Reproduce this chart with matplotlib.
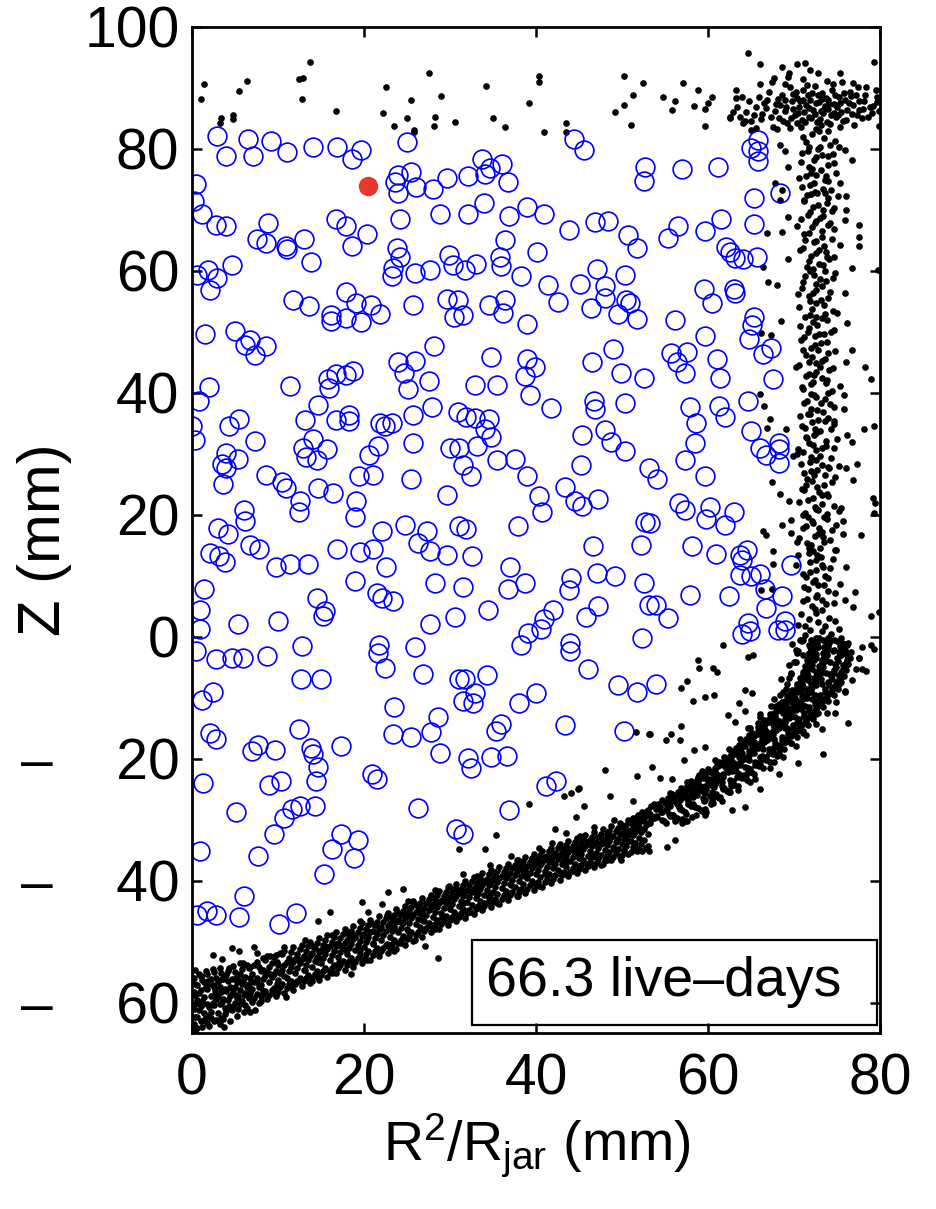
import numpy as np
import matplotlib
matplotlib.use("Agg")
import matplotlib.pyplot as plt
from matplotlib.patches import Rectangle
from matplotlib.ticker import FuncFormatter

plt.rcParams['font.family'] = ['Liberation Sans', 'DejaVu Sans']
plt.rcParams['mathtext.default'] = 'regular'

# candidate events (blue open circles), (R^2/Rjar, Z) in mm
events = [
    (2.9, 82.1), (3.9, 78.8), (6.5, 81.7), (7.1, 78.8), (9.2, 81.3), (11.1, 79.5), (14.1, 80.3),
    (16.9, 80.4), (19.7, 79.8), (18.6, 78.4), (25.0, 81.1), (0.5, 74.3), (0.2, 71.5), (1.2, 69.3),
    (2.8, 67.5), (3.9, 67.4), (8.8, 67.9), (7.5, 65.3), (8.6, 64.5), (10.9, 64.0), (11.0, 63.6),
    (13.0, 65.3), (13.8, 61.4), (4.7, 61.0), (1.9, 60.2), (0.6, 59.3), (2.9, 58.8), (16.7, 68.5),
    (17.9, 67.3), (20.4, 66.0), (18.6, 64.0), (23.6, 74.5), (24.0, 75.7), (25.5, 76.2), (24.0, 72.7),
    (26.0, 73.8), (24.2, 68.5), (23.8, 63.7), (24.2, 62.3), (23.4, 60.4), (25.9, 59.6),
    (44.4, 81.7), (45.6, 79.9), (52.7, 77.1), (52.6, 74.8), (33.7, 78.3), (34.7, 76.8), (36.1, 77.5),
    (34.1, 75.9), (36.7, 74.6), (32.1, 75.5), (29.7, 75.3), (28.0, 73.5), (28.8, 69.3), (32.1, 69.3),
    (34.0, 71.1), (36.9, 69.0), (39.0, 70.5), (40.9, 69.4), (43.8, 66.7), (46.9, 68.0), (48.4, 68.2),
    (50.7, 65.9), (51.8, 63.8), (36.4, 65.0), (40.1, 63.1), (29.9, 62.6), (30.3, 61.0), (31.7, 60.1),
    (33.0, 61.1), (35.8, 62.2), (35.9, 60.8), (27.7, 60.1), (38.3, 59.1), (47.1, 60.3), (50.3, 59.3),
    (57.0, 76.7), (61.2, 77.1), (65.8, 81.5), (65.0, 80.2), (65.8, 79.6), (65.8, 78.1), (68.4, 72.7),
    (65.3, 71.9), (56.5, 67.3), (55.3, 65.4), (59.6, 66.6), (61.5, 68.5), (65.3, 67.7), (62.1, 63.9),
    (62.6, 63.1), (63.1, 62.1), (64.1, 61.9), (65.7, 62.2),
    (2.1, 56.9), (11.7, 55.2), (13.6, 54.2), (17.9, 56.6), (19.1, 54.7), (20.8, 54.4), (21.9, 53.0),
    (16.2, 52.7), (16.2, 51.7), (17.9, 52.2), (19.7, 51.6), (25.7, 54.4), (23.2, 59.1), (1.5, 49.7),
    (5.0, 50.1), (6.2, 47.8), (6.7, 48.7), (7.3, 46.2), (8.6, 47.7), (2.0, 41.0), (0.85, 38.7),
    (0.0, 34.5), (0.3, 32.3), (11.4, 41.2), (14.6, 38.0), (13.1, 35.5), (16.8, 35.6), (18.3, 36.4),
    (18.3, 35.4), (15.8, 42.2), (15.9, 40.8), (16.8, 43.1), (17.9, 43.0), (18.7, 43.5), (24.0, 45.1),
    (25.9, 45.2), (24.7, 43.2), (25.1, 40.7), (25.7, 36.4), (21.9, 35.0), (22.4, 34.6), (23.2, 35.0),
    (4.3, 34.6), (5.5, 35.7), (7.3, 32.1), (4.0, 30.1), (3.5, 28.3), (4.0, 27.6), (5.4, 29.1),
    (3.6, 25.0), (12.9, 30.9), (14.1, 32.5), (15.7, 30.8), (13.3, 29.5), (14.5, 28.9), (20.6, 29.8),
    (21.6, 31.2), (8.6, 26.6), (10.5, 25.4), (10.9, 24.4), (14.6, 24.4), (16.4, 23.6), (19.4, 26.3),
    (21.1, 26.6), (25.5, 25.9), (25.7, 31.7), (12.5, 22.3), (12.4, 20.4), (6.1, 20.8), (6.2, 18.9),
    (3.0, 17.8), (4.2, 16.8), (19.1, 22.3), (18.9, 19.6), (22.1, 17.3), (24.8, 18.4),
    (41.4, 57.7), (42.6, 54.9), (45.1, 57.8), (48.0, 57.5), (48.0, 55.6), (46.4, 53.9), (49.5, 52.9),
    (50.5, 55.2), (50.9, 54.7), (51.8, 52.1), (29.7, 55.4), (30.9, 55.2), (30.5, 52.4), (31.5, 52.7),
    (34.5, 54.4), (36.4, 55.2), (36.2, 53.1), (39.0, 51.3), (28.1, 47.7), (27.6, 41.9), (27.9, 37.6),
    (34.8, 45.9), (32.9, 41.3), (35.5, 41.3), (38.9, 45.6), (39.9, 44.3), (38.7, 42.8), (39.3, 39.7),
    (41.7, 37.5), (30.9, 36.8), (31.9, 36.1), (32.9, 35.8), (34.5, 35.7), (34.1, 34.1), (34.8, 32.7),
    (33.1, 31.2), (30.0, 30.9), (31.0, 31.0), (31.5, 28.1), (32.4, 26.3), (35.5, 29.0), (37.6, 29.2),
    (39.0, 26.4), (29.6, 23.3), (40.3, 23.1), (40.7, 20.4), (43.4, 24.6), (44.5, 22.2), (45.3, 21.4),
    (47.2, 22.6), (46.5, 45.0), (48.9, 47.2), (49.9, 43.2), (52.5, 42.4), (46.7, 38.7), (46.9, 37.4),
    (50.4, 38.4), (45.4, 33.1), (48.0, 33.9), (48.7, 31.9), (50.3, 30.4), (45.2, 28.1), (53.1, 27.6),
    (52.7, 18.8), (27.3, 17.3), (31.0, 18.1), (31.9, 17.7), (37.9, 18.1),
    (59.5, 57.0), (63.0, 57.0), (63.1, 56.3), (60.5, 54.7), (56.2, 52.0), (65.3, 52.5), (65.1, 51.1),
    (64.8, 48.8), (59.6, 49.3), (66.4, 46.3), (67.3, 47.4), (67.6, 42.3), (55.7, 46.6), (56.4, 45.1),
    (57.3, 43.2), (57.5, 46.7), (61.0, 45.6), (61.4, 42.5), (57.9, 37.7), (58.6, 35.0), (61.3, 37.9),
    (62.0, 36.1), (64.6, 38.6), (65.0, 33.7), (66.0, 31.0), (66.8, 29.8), (68.2, 31.7), (68.2, 30.8),
    (68.2, 28.5), (58.5, 31.7), (57.3, 28.9), (59.7, 26.4), (54.1, 25.9), (56.6, 21.9), (57.3, 20.8),
    (60.2, 21.2), (59.8, 19.3), (62.0, 18.3), (63.0, 20.4), (53.3, 18.6),
    (2.1, 13.8), (3.1, 13.2), (3.8, 12.2), (6.7, 15.1), (7.8, 14.4), (9.8, 11.4), (11.4, 11.9),
    (13.5, 12.0), (16.9, 14.4), (19.5, 13.9), (21.1, 14.4), (22.6, 11.4), (18.9, 9.1), (21.5, 7.2),
    (22.1, 6.3), (23.4, 5.9), (1.4, 7.8), (0.9, 4.3), (0.9, 1.3), (0.5, -2.4), (2.8, -3.6),
    (4.7, -3.5), (5.9, -3.5), (8.7, -3.1), (5.4, 2.1), (10.0, 2.6), (14.5, 6.3), (15.5, 4.2),
    (15.2, 3.4), (12.8, -1.5), (12.7, -6.9), (15.0, -6.9), (21.7, -1.3), (21.6, -2.7), (22.4, -5.2),
    (25.9, -1.7), (2.5, -9.1), (1.2, -10.4), (23.5, -11.6), (2.1, -15.8), (2.8, -16.8), (7.0, -18.8),
    (7.7, -17.7), (9.7, -18.6), (12.4, -15.1), (13.8, -18.2), (14.1, -19.3), (14.6, -21.4),
    (14.4, -23.6), (17.3, -17.9), (23.4, -15.9), (25.5, -16.5), (20.9, -22.5), (21.5, -23.4),
    (1.3, -24.0), (9.0, -24.3), (10.4, -23.6), (26.3, 15.4),
    (27.7, 14.0), (29.6, 13.4), (32.5, 13.2), (28.3, 8.8), (31.5, 8.1), (37.0, 11.4), (36.7, 7.8),
    (38.7, 8.8), (44.1, 9.6), (43.8, 7.6), (46.6, 14.8), (47.1, 10.4), (49.2, 9.9), (52.2, 15.1),
    (52.5, 8.8), (53.1, 5.2), (27.7, 2.1), (30.6, 3.2), (34.4, 4.3), (38.3, -1.4), (39.1, 0.6),
    (40.6, 1.3), (40.9, 2.9), (42.0, 4.3), (45.8, 3.2), (47.2, 5.1), (44.0, -1.0), (44.0, -2.4),
    (46.0, -5.3), (26.9, -6.2), (31.0, -6.9), (31.7, -7.0), (32.9, -9.3), (31.5, -10.6), (32.7, -10.8),
    (34.3, -6.3), (38.0, -10.8), (40.0, -9.3), (49.5, -8.0), (51.8, -9.1), (52.3, -0.2), (28.6, -13.1),
    (27.8, -15.6), (28.8, -19.1), (32.1, -19.9), (32.4, -21.6), (34.8, -19.7), (36.6, -19.5),
    (35.9, -14.3), (35.4, -15.5), (43.4, -14.5), (50.2, -15.4), (41.2, -24.5), (42.3, -23.6),
    (58.1, 14.8), (60.9, 13.6), (63.7, 13.4), (64.5, 14.3), (63.9, 12.6), (63.7, 10.2), (65.0, 10.0),
    (66.0, 10.3), (66.6, 7.8), (68.6, 6.6), (69.7, 11.8), (66.7, 4.7), (64.7, 2.2), (64.9, 1.0),
    (64.0, 0.4), (68.1, 1.1), (68.9, 2.5), (68.9, 1.1), (57.9, 6.9), (62.4, 6.6), (54.0, 5.2),
    (55.4, 3.1), (54.0, -7.7),
    (5.1, -28.8), (10.7, -29.7), (11.6, -28.2), (12.6, -27.7), (14.3, -27.8), (9.5, -32.3),
    (0.9, -35.1), (7.7, -36.0), (17.3, -32.3), (19.3, -33.4), (16.3, -34.8), (18.8, -36.3),
    (15.4, -38.9), (6.0, -42.6), (0.6, -45.7), (1.7, -45.0), (2.8, -45.6), (5.5, -45.9),
    (10.1, -47.2), (12.1, -45.4), (26.3, -28.1), (36.9, -28.4), (30.7, -31.6), (31.5, -32.3),
]

# the one highlighted event (red)
highlight = (20.5, 73.9)

# wall / surface events (black dots)
top_dots = [
    (1.4, 90.6), (1.0, 88.2), (6.4, 91.1), (5.5, 89.5), (3.4, 85.0), (3.3, 84.2), (4.8, 85.6),
    (4.8, 84.9), (13.7, 94.3), (12.4, 91.4), (12.9, 91.6), (12.8, 88.2), (16.7, 86.2), (22.6, 90.1),
    (25.5, 88.0), (22.2, 85.9), (25.0, 85.1), (23.5, 83.8), (25.8, 83.1), (25.8, 82.7), (27.6, 92.4),
    (29.0, 88.7), (28.2, 85.2), (28.1, 83.8), (30.6, 84.5), (34.2, 90.3), (35.0, 85.0), (36.4, 83.6),
    (39.2, 87.6), (40.3, 92.0), (40.3, 90.9), (40.9, 82.8), (43.5, 84.3), (43.5, 82.8), (50.2, 91.9),
    (52.4, 90.8), (51.3, 88.9), (50.2, 87.2), (49.2, 86.0), (51.0, 83.9), (64.6, 95.8), (66.0, 94.0),
    (68.6, 93.4), (70.3, 94.0), (71.3, 94.1), (69.4, 92.5), (71.9, 93.0), (72.8, 92.4), (75.3, 92.5),
    (79.3, 94.3), (67.7, 91.6), (66.0, 90.7), (57.1, 90.8), (58.8, 89.7), (54.8, 88.5), (56.2, 87.8),
    (55.8, 86.4), (58.4, 87.0), (59.6, 86.5), (60.0, 87.6), (60.5, 88.5), (59.6, 83.7), (63.2, 89.6),
    (63.2, 88.4), (62.6, 85.0), (64.3, 84.6), (65.0, 83.1),
]

top_cluster = [
    (62.5, 85.2), (63.4, 86.8), (64.1, 84.3), (64.8, 87.9), (65.3, 85.6), (65.9, 88.6), (66.2, 84.9),
    (66.8, 86.7), (67.1, 89.3), (67.5, 83.6), (67.9, 87.4), (68.2, 85.1), (68.6, 88.9), (68.9, 86.3),
    (69.2, 84.2), (69.5, 90.1), (69.8, 87.8), (70.1, 85.6), (70.3, 88.4), (70.6, 86.9), (70.9, 84.7),
    (71.1, 89.6), (71.4, 87.2), (71.7, 85.3), (71.9, 88.1), (72.2, 86.4), (72.4, 90.3), (72.7, 84.5),
    (72.9, 87.7), (73.2, 89.1), (73.4, 85.9), (73.7, 88.3), (73.9, 86.6), (74.2, 84.1), (74.4, 89.7),
    (74.7, 87.4), (74.9, 85.2), (75.2, 88.6), (75.5, 86.1), (75.8, 89.2), (76.1, 84.8), (76.4, 87.5),
    (76.8, 85.7), (77.2, 88.9), (77.6, 86.4), (78.1, 87.8), (78.6, 85.3), (79.2, 87.1), (79.7, 88.6),
    (69.9, 89.0), (71.2, 86.0), (72.8, 88.9), (73.6, 87.0), (70.7, 87.8), (74.0, 88.0), (75.0, 86.9),
    (68.4, 87.2), (72.0, 85.0), (73.1, 86.2), (71.6, 88.8), (70.4, 84.3), (74.6, 85.9), (69.0, 88.1),
    (76.6, 88.7), (77.9, 85.0), (66.5, 87.6), (63.9, 88.5), (65.6, 83.4), (68.0, 83.2), (75.4, 83.6),
    (77.0, 83.9), (79.9, 86.2), (79.5, 89.6), (78.4, 90.2), (76.9, 90.8), (75.6, 91.0), (73.8, 91.2),
    (71.0, 91.4), (69.3, 91.8), (67.4, 90.9),
    (62.9, 86.1), (63.7, 85.3), (64.4, 86.0), (65.0, 84.6), (65.6, 86.9), (66.3, 85.8), (66.9, 88.0),
    (67.3, 85.2), (67.8, 86.2), (68.1, 88.2), (68.7, 84.6), (69.1, 86.8), (69.6, 85.1), (69.9, 86.5),
    (70.2, 89.3), (70.5, 85.9), (71.0, 88.1), (71.3, 84.5), (71.8, 86.7), (72.1, 89.2), (72.4, 85.7),
    (72.6, 87.6), (73.0, 84.9), (73.3, 88.2), (73.5, 86.5), (73.8, 84.5), (74.1, 87.3), (74.3, 85.5),
    (74.8, 88.8), (75.1, 85.6), (75.3, 87.5), (75.7, 84.6), (75.9, 88.0), (76.2, 86.4), (76.5, 89.4),
    (76.9, 87.2), (77.3, 85.6), (77.6, 87.9), (78.0, 86.5), (78.3, 88.8), (78.8, 86.9), (79.1, 85.9),
    (79.6, 87.7), (77.4, 90.2), (74.5, 90.6), (71.5, 90.5), (68.9, 90.6), (70.8, 83.6), (72.5, 83.3),
    (74.0, 82.9), (73.1, 83.9), (69.5, 83.4),
]

side_column = [
    (72.1, 82.4), (73.5, 81.8), (71.4, 81.1), (74.2, 80.6), (72.8, 80.0), (70.9, 79.4), (73.9, 78.9),
    (72.3, 78.2), (74.6, 77.7), (71.7, 77.1), (73.1, 76.5), (72.5, 75.8), (70.6, 75.2), (74.0, 74.7),
    (71.9, 74.1), (73.4, 73.5), (72.7, 72.8), (75.1, 72.3), (71.2, 71.7), (73.8, 71.1), (72.2, 70.4),
    (74.4, 69.9), (71.6, 69.2), (73.0, 68.6), (72.4, 67.9), (70.3, 67.3), (74.7, 66.8), (71.8, 66.2),
    (73.3, 65.5), (72.6, 64.9), (75.4, 64.3), (71.1, 63.8), (73.7, 63.1), (72.0, 62.5), (74.1, 61.9),
    (72.9, 61.2), (71.5, 60.6), (73.6, 60.0), (72.3, 59.4), (74.5, 58.8), (71.0, 58.1), (73.2, 57.5),
    (72.6, 56.9), (70.5, 56.2), (74.0, 55.6), (71.9, 55.0), (73.5, 54.4), (72.1, 53.7), (75.0, 53.1),
    (71.3, 52.5), (73.8, 51.9), (72.7, 51.2), (71.7, 50.6), (74.3, 50.0), (72.4, 49.3), (70.8, 48.7),
    (73.1, 48.1), (72.0, 47.4), (74.8, 46.8), (71.4, 46.2), (73.6, 45.6), (72.5, 44.9), (70.2, 44.3),
    (74.1, 43.7), (71.8, 43.1), (73.3, 42.4), (72.2, 41.8), (75.3, 41.2), (71.1, 40.6), (73.9, 40.0),
    (72.6, 39.3), (71.5, 38.7), (74.2, 38.1), (72.0, 37.4), (73.4, 36.8), (70.7, 36.2), (72.8, 35.6),
    (74.6, 34.9), (71.3, 34.3), (73.0, 33.7), (72.3, 33.1), (75.0, 32.4), (71.8, 31.8), (73.7, 31.2),
    (72.5, 30.6), (70.4, 29.9), (74.3, 29.3), (71.9, 28.7), (73.2, 28.1), (72.7, 27.4), (71.2, 26.8),
    (74.8, 26.2), (72.1, 25.6), (73.5, 24.9), (70.9, 24.3), (72.9, 23.7), (74.0, 23.1), (71.6, 22.4),
    (73.3, 21.8), (72.4, 21.2), (75.2, 20.6), (71.0, 20.0), (73.8, 19.3), (72.2, 18.7), (71.4, 18.1),
    (74.4, 17.5), (72.8, 16.8), (70.6, 16.2), (73.5, 15.6), (72.0, 15.0), (74.9, 14.3), (71.7, 13.7),
    (73.1, 13.1), (72.6, 12.5), (70.2, 11.8), (74.2, 11.2), (71.9, 10.6), (73.6, 10.0), (72.4, 9.3),
    (75.4, 8.7), (71.2, 8.1), (73.9, 7.5), (72.7, 6.8), (71.5, 6.2), (74.6, 5.6), (72.1, 5.0),
    (73.3, 4.3), (70.8, 3.7), (74.1, 3.1),
    (72.9, 82.9), (71.8, 80.3), (73.2, 79.0), (72.0, 76.0), (73.7, 75.5), (72.4, 73.0), (71.5, 72.4),
    (73.4, 70.0), (72.6, 68.2), (73.9, 67.5), (71.3, 65.0), (72.9, 63.5), (73.8, 62.2), (71.9, 59.9),
    (73.0, 58.6), (72.2, 56.3), (73.6, 53.0), (72.5, 52.4), (71.6, 49.9), (73.5, 49.6), (72.8, 47.0),
    (71.7, 45.0), (73.0, 44.2), (72.3, 42.9), (73.7, 41.6), (72.0, 39.8), (73.1, 38.4), (71.9, 36.5),
    (73.6, 35.4), (72.4, 34.1), (71.5, 32.6), (73.3, 30.9), (72.0, 29.5), (73.9, 27.9), (72.3, 26.5),
    (71.4, 24.8), (73.2, 23.3), (72.6, 20.9), (73.8, 20.1), (71.6, 19.6), (72.9, 17.9), (73.4, 16.3),
    (71.8, 14.6), (72.7, 13.4), (73.3, 11.7), (71.4, 9.8), (72.8, 8.4), (73.2, 6.1), (72.4, 4.6),
    (71.7, 2.9), (72.8, 2.4), (73.6, 1.8), (71.9, 1.1), (74.3, 0.4), (72.5, -0.2), (70.9, -0.7),
    (71.0, 82.0), (74.8, 81.3), (73.0, 80.4), (71.6, 79.7), (74.5, 79.2), (72.6, 78.6), (70.8, 77.9),
    (73.9, 77.3), (72.1, 76.7), (74.9, 76.0), (71.4, 75.5), (73.6, 74.9), (72.3, 74.4), (70.9, 73.8),
    (74.3, 73.2), (72.0, 72.6), (73.9, 72.0), (71.2, 71.4), (72.8, 70.8), (74.6, 70.3), (71.9, 69.6),
    (73.4, 69.0), (70.8, 68.5), (74.2, 67.9), (72.1, 67.2), (73.3, 66.6), (71.2, 66.0), (74.4, 65.3),
    (72.3, 64.7), (73.5, 64.0), (70.7, 63.4), (72.5, 62.9), (74.6, 62.3), (71.7, 61.6), (73.4, 61.0),
    (72.2, 60.3), (74.8, 59.7), (71.3, 59.1), (73.7, 58.4), (72.5, 57.8), (70.9, 57.2), (74.2, 56.5),
    (71.8, 55.9), (73.1, 55.3), (72.6, 54.7), (70.6, 54.1), (74.5, 53.4), (71.9, 52.8), (73.3, 52.2),
    (72.2, 51.6), (70.7, 51.0), (74.7, 50.3), (72.9, 49.7), (71.2, 49.1), (73.8, 48.4), (72.4, 47.8),
    (71.0, 47.1), (74.0, 46.5), (72.1, 45.9), (73.3, 45.3), (70.6, 44.6), (74.5, 44.0), (72.6, 43.4),
    (71.4, 42.7), (73.8, 42.1), (72.0, 41.4), (70.9, 40.9), (74.4, 40.3), (72.3, 39.6), (73.6, 39.0),
    (71.2, 38.4), (74.6, 37.7), (72.7, 37.1), (71.6, 36.5), (73.9, 35.9), (72.1, 35.2), (70.9, 34.6),
    (74.3, 34.0), (72.6, 33.4), (71.4, 32.8), (73.7, 32.1), (72.2, 31.5), (74.7, 30.9), (71.1, 30.3),
    (73.0, 29.6), (72.5, 28.9), (70.8, 28.4), (74.1, 27.7), (72.0, 27.1), (73.6, 26.5), (71.5, 25.9),
    (74.4, 25.3), (72.7, 24.6), (71.2, 24.0), (73.8, 23.4), (72.2, 22.8), (70.6, 22.1), (74.6, 21.5),
    (72.8, 20.7), (71.3, 20.3), (73.5, 19.7), (72.1, 19.0), (74.9, 18.4), (71.0, 17.8), (73.2, 17.2),
    (72.4, 16.5), (74.2, 15.9), (71.5, 15.3), (73.0, 14.6), (72.2, 14.0), (70.5, 13.4), (74.5, 12.8),
    (71.9, 12.2), (73.4, 11.5), (72.5, 10.9), (71.0, 10.3), (74.0, 9.7), (72.2, 9.0), (73.5, 8.4),
    (71.6, 7.8), (74.8, 7.2), (72.5, 6.5), (71.1, 5.9), (73.7, 5.3), (72.6, 3.9), (74.8, 2.5),
    (71.3, 1.8), (73.2, 0.9), (75.2, 1.3), (70.5, 2.0), (72.0, -0.5),
]

side_scatter = [
    (68.4, 80.7), (69.0, 79.6), (69.3, 77.1), (67.8, 74.4), (68.6, 73.3), (68.4, 71.6), (69.3, 68.8),
    (68.6, 66.3), (66.9, 66.2), (69.3, 61.9), (66.4, 60.6), (75.2, 80.4), (75.9, 79.9), (76.7, 78.2),
    (75.3, 74.4), (76.0, 72.3), (76.1, 70.0), (75.9, 68.4), (77.5, 67.5), (77.5, 65.6), (77.5, 64.1),
    (76.7, 60.4), (79.8, 60.2), (79.9, 83.7), (73.6, 72.7), (67.0, 58.2), (68.0, 57.7), (75.9, 56.3),
    (68.5, 51.8), (66.2, 49.8), (67.3, 49.5), (76.2, 51.4), (76.7, 47.0), (76.0, 45.0), (78.2, 44.3),
    (79.0, 42.3), (66.0, 39.8), (66.5, 37.9), (67.2, 35.7), (66.9, 34.2), (69.1, 34.1), (75.8, 39.7),
    (75.8, 37.4), (74.7, 35.3), (76.2, 33.1), (76.7, 32.0), (78.1, 34.0), (79.3, 34.5), (75.2, 28.0),
    (76.0, 27.6), (77.3, 28.4), (76.9, 25.7), (67.4, 25.4), (68.4, 23.4), (69.4, 22.2), (69.7, 19.2),
    (68.6, 18.3), (69.9, 29.6), (70.5, 30.8), (79.2, 22.7), (79.4, 21.9), (79.3, 20.3), (75.5, 21.1),
    (75.7, 18.9), (66.4, 17.3), (66.8, 16.7), (69.7, 17.0), (75.7, 16.9), (77.8, 16.6), (67.6, 14.0),
    (70.3, 15.5), (74.8, 14.3), (67.6, 11.9), (76.1, 11.5), (66.2, 7.7), (67.4, 7.8), (77.1, 7.4),
    (75.9, 6.1), (76.9, 4.8), (79.0, 3.4), (79.9, 4.1),
]

# lower wall band, listed per R^2/Rjar column: z values
floor_band = {
    0.2: [-63.5, -61.0, -58.2, -56.0], 0.6: [-62.3, -59.6, -57.1, -64.2],
    1.0: [-63.0, -60.5, -58.0, -55.6], 1.4: [-61.7, -59.1, -56.6, -62.8],
    1.8: [-63.4, -60.2, -57.8, -55.3], 2.2: [-61.5, -58.9, -56.2, -62.6],
    2.6: [-60.4, -57.5, -63.1, -55.0], 3.0: [-61.8, -59.0, -56.7], 3.4: [-62.5, -58.3, -55.2],
    3.8: [-60.9, -57.8, -61.9], 4.2: [-59.6, -56.5, -54.8], 4.6: [-61.2, -58.6, -56.1],
    5.0: [-60.1, -57.4, -55.0], 5.4: [-58.9, -56.3, -61.0], 5.8: [-59.7, -57.0, -54.5],
    6.2: [-58.4, -55.8, -60.4], 6.6: [-59.2, -56.9, -54.3], 7.0: [-57.8, -55.4, -59.9],
    7.5: [-58.6, -55.9, -53.4], 8.0: [-57.2, -54.8, -59.0], 8.5: [-58.1, -55.6, -53.0],
    9.0: [-56.7, -54.2, -58.8], 9.5: [-57.6, -55.3, -52.6], 10.0: [-56.3, -53.9, -58.2],
    10.5: [-57.0, -54.6, -52.1], 11.0: [-55.9, -53.4, -57.6], 11.5: [-56.5, -54.1, -51.7],
    12.0: [-55.2, -52.9, -57.0], 12.5: [-56.0, -53.5, -51.3], 13.0: [-54.7, -52.4, -56.5],
    13.5: [-55.5, -53.0, -50.8], 14.0: [-54.1, -51.9, -56.0], 14.5: [-54.9, -52.6, -50.3],
    15.0: [-53.6, -51.4, -55.5], 15.5: [-54.3, -52.0, -49.8], 16.0: [-53.0, -50.8, -55.0],
    16.5: [-53.8, -51.5, -49.3], 17.0: [-52.5, -50.2, -54.4], 17.5: [-53.2, -51.0, -48.8],
    18.0: [-52.0, -49.7, -53.9], 18.5: [-52.7, -50.4, -48.3], 19.0: [-51.4, -49.2, -53.3],
    19.5: [-52.1, -49.9, -47.8], 20.0: [-50.9, -48.7, -52.8], 20.5: [-51.6, -49.3, -47.3],
    21.0: [-50.4, -48.2, -52.2], 21.5: [-51.0, -48.8, -46.8], 22.0: [-49.8, -47.6, -51.6],
    22.5: [-50.5, -48.2, -46.2], 23.0: [-49.2, -47.0, -51.0], 23.5: [-49.8, -47.6, -45.6],
    24.0: [-48.5, -46.4, -50.3], 24.5: [-49.1, -46.9, -45.0], 25.0: [-47.9, -45.7, -49.6],
    25.5: [-48.4, -46.2, -44.4], 26.0: [-47.2, -45.1, -48.9], 26.5: [-47.6, -45.4, -43.6],
    27.0: [-46.6, -44.5, -48.3], 27.5: [-47.0, -44.9, -43.0], 28.0: [-45.9, -43.9, -47.7],
    28.5: [-46.4, -44.3, -42.4], 29.0: [-45.3, -43.3, -47.1], 29.5: [-45.8, -43.7, -41.8],
    30.0: [-44.7, -42.7, -46.5], 30.5: [-45.2, -43.1, -41.3], 31.0: [-44.1, -42.1, -45.9],
    31.5: [-44.6, -42.5, -40.7], 32.0: [-43.5, -41.5, -45.3], 32.5: [-44.0, -41.9, -40.1],
    33.0: [-42.9, -40.9, -44.7], 33.5: [-43.4, -41.4, -39.6], 34.0: [-42.3, -40.3, -44.1],
    34.5: [-42.8, -40.8, -39.0], 35.0: [-41.8, -39.8, -43.5], 35.5: [-42.2, -40.2, -38.5],
    36.0: [-41.2, -39.2, -43.0], 36.5: [-41.7, -39.6, -37.9], 37.0: [-40.6, -38.7, -42.4],
    37.5: [-41.1, -39.1, -37.4], 38.0: [-40.1, -38.1, -41.9], 38.5: [-40.5, -38.5, -36.8],
    39.0: [-39.5, -37.6, -41.3], 39.5: [-40.0, -38.0, -36.3], 40.0: [-39.0, -37.0, -40.8],
    40.5: [-39.4, -37.5, -35.8], 41.0: [-38.4, -36.5, -40.2], 41.5: [-38.9, -36.9, -35.2],
    42.0: [-37.9, -36.0, -39.7], 42.5: [-38.3, -36.4, -34.7], 43.0: [-37.3, -35.4, -39.1],
    43.5: [-37.8, -35.9, -34.2], 44.0: [-36.8, -34.9, -38.6], 44.5: [-37.2, -35.4, -33.7],
    45.0: [-36.3, -34.5, -38.1], 45.5: [-36.7, -34.9, -33.2], 46.0: [-35.9, -34.0, -37.6],
    46.5: [-36.2, -34.4, -32.8], 47.0: [-35.4, -33.6, -37.1], 47.5: [-35.8, -34.0, -32.3],
    48.0: [-35.0, -33.2, -36.7], 48.5: [-35.3, -33.5, -31.9], 49.0: [-34.5, -32.7, -36.2],
    49.5: [-34.9, -33.1, -31.4], 50.0: [-34.0, -32.2, -35.8], 50.5: [-34.4, -32.6, -30.9],
    51.0: [-33.5, -31.7, -35.3], 51.5: [-33.9, -32.1, -30.4], 52.0: [-33.0, -31.2, -34.8],
    52.5: [-33.4, -31.6, -29.8], 53.0: [-32.4, -30.6, -34.3],
    0.4: [-64.5, -60.2, -57.0, -54.6], 0.8: [-61.3, -58.4, -55.4], 1.2: [-64.0, -59.7, -56.3],
    1.6: [-62.2, -57.4, -54.9], 2.0: [-63.8, -60.8, -56.9], 2.4: [-60.1, -57.2, -54.5],
    2.8: [-62.9, -59.4, -56.0], 3.2: [-63.5, -60.3, -57.4, -54.3], 3.6: [-59.5, -56.1, -62.7],
    4.0: [-61.4, -58.1, -55.5], 4.4: [-63.0, -59.0, -57.5], 4.8: [-60.7, -57.9, -54.0],
    5.2: [-62.2, -59.3, -56.6], 5.6: [-58.0, -55.4, -53.6], 6.0: [-61.5, -58.7, -56.0],
    6.4: [-60.9, -57.4, -53.9], 6.8: [-58.3, -55.9, -61.6], 7.25: [-59.2, -56.6, -53.9],
    7.75: [-60.1, -57.5, -54.2], 8.25: [-58.6, -56.1, -52.7], 8.75: [-59.5, -55.0, -52.4],
    9.25: [-58.0, -55.8, -53.6], 9.75: [-59.0, -54.8, -52.2], 10.25: [-57.5, -55.1, -51.8],
    10.75: [-58.4, -53.8, -51.5], 11.25: [-57.0, -54.9, -52.7], 11.75: [-57.9, -53.3, -50.9],
    12.25: [-56.4, -54.3, -52.1], 12.75: [-57.3, -52.8, -50.5], 13.25: [-55.9, -53.8, -51.6],
    13.75: [-56.8, -52.3, -50.0], 14.25: [-55.4, -53.2, -51.1], 14.75: [-56.3, -51.7, -49.5],
    15.25: [-54.9, -52.7, -50.6], 15.75: [-55.8, -51.2, -49.0], 16.25: [-54.3, -52.2, -50.0],
    16.75: [-55.2, -50.7, -48.5], 17.25: [-53.8, -51.7, -49.5], 17.75: [-54.6, -50.2, -48.0],
    18.25: [-53.2, -51.1, -48.9], 18.75: [-54.1, -49.6, -47.5], 19.25: [-52.7, -50.6, -48.4],
    19.75: [-53.5, -49.1, -46.9], 20.25: [-52.1, -50.0, -47.9], 20.75: [-53.0, -48.5, -46.4],
    21.25: [-51.6, -49.5, -47.3], 21.75: [-52.4, -48.0, -45.8], 22.25: [-51.0, -48.9, -46.8],
    22.75: [-51.8, -47.4, -45.3], 23.25: [-50.4, -48.3, -46.2], 23.75: [-51.2, -46.8, -44.7],
    24.25: [-49.8, -47.7, -45.6], 24.75: [-50.6, -46.2, -44.1], 25.25: [-49.1, -47.0, -45.0],
    25.75: [-49.9, -45.6, -43.5], 26.25: [-48.5, -46.3, -44.3], 26.75: [-49.2, -44.9, -42.9],
    27.25: [-47.8, -45.7, -43.7], 27.75: [-48.5, -44.3, -42.3], 28.25: [-47.2, -45.1, -43.1],
    28.75: [-47.9, -43.7, -41.7], 29.25: [-46.6, -44.5, -42.5], 29.75: [-47.3, -43.1, -41.1],
    30.25: [-46.0, -43.9, -41.9], 30.75: [-46.7, -42.5, -40.5], 31.25: [-45.4, -43.3, -41.3],
    31.75: [-46.1, -41.9, -40.0], 32.25: [-44.8, -42.7, -40.8], 32.75: [-45.5, -41.3, -39.4],
    33.25: [-44.2, -42.1, -40.2], 33.75: [-44.9, -40.7, -38.8], 34.25: [-43.6, -41.6, -39.7],
    34.75: [-44.3, -40.2, -38.3], 35.25: [-43.0, -41.0, -39.1], 35.75: [-43.8, -39.6, -37.8],
    36.25: [-42.4, -40.4, -38.6], 36.75: [-43.2, -39.1, -37.3], 37.25: [-41.9, -39.9, -38.0],
    37.75: [-42.6, -38.5, -36.7], 38.25: [-41.3, -39.3, -37.5], 38.75: [-42.1, -38.0, -36.2],
    39.25: [-40.8, -38.8, -37.0], 39.75: [-41.5, -37.4, -35.6], 40.25: [-40.2, -38.2, -36.4],
    40.75: [-41.0, -36.9, -35.1], 41.25: [-39.7, -37.7, -35.9], 41.75: [-40.4, -36.4, -34.6],
    42.25: [-39.1, -37.2, -35.4], 42.75: [-39.9, -35.8, -34.0], 43.25: [-38.6, -36.6, -34.8],
    43.75: [-39.3, -35.3, -33.5], 44.25: [-38.0, -36.1, -34.3], 44.75: [-38.8, -34.8, -33.0],
    45.25: [-37.5, -35.6, -33.8], 45.75: [-38.2, -34.3, -32.5], 46.25: [-37.0, -35.1, -33.3],
    46.75: [-37.7, -33.8, -32.0], 47.25: [-36.5, -34.6, -32.8], 47.75: [-37.2, -33.3, -31.6],
    48.25: [-36.0, -34.1, -32.4], 48.75: [-36.7, -32.8, -31.1], 49.25: [-35.5, -33.6, -31.9],
    49.75: [-36.2, -32.3, -30.6], 50.25: [-35.0, -33.1, -31.4], 50.75: [-35.7, -31.8, -30.1],
    51.25: [-34.5, -32.6, -30.9], 51.75: [-35.2, -31.4, -29.6], 52.25: [-34.0, -32.1, -30.3],
    52.75: [-34.7, -30.9, -29.1],
}

# irregular extra dots read along the lower band
floor_extra = [
    (0.3, -58.8), (0.3, -62.3), (1.1, -55.6), (1.1, -60.4), (1.9, -56.4), (1.9, -62.2),
    (2.7, -58.1), (2.7, -59.0), (3.5, -56.2), (3.5, -59.9), (4.3, -54.3), (4.3, -60.6),
    (5.1, -55.9), (5.1, -58.7), (5.9, -53.6), (5.9, -56.6), (6.7, -54.1), (6.7, -58.5),
    (7.5, -51.9), (7.5, -56.6), (8.3, -54.7), (8.3, -58.1), (9.1, -52.4), (9.1, -55.4),
    (9.9, -53.3), (9.9, -56.9), (10.7, -50.9), (10.7, -55.7), (11.5, -53.6), (11.5, -57.2),
    (12.3, -52.9), (12.3, -56.4), (13.1, -49.8), (13.1, -54.6), (13.9, -50.7), (13.9, -56.5),
    (14.7, -52.5), (14.7, -53.4), (15.5, -50.8), (15.5, -54.5), (16.3, -48.9), (16.3, -55.2),
    (17.1, -50.6), (17.1, -53.4), (17.9, -48.4), (17.9, -51.4), (18.7, -48.9), (18.7, -53.3),
    (19.5, -46.7), (19.5, -51.4), (20.3, -49.6), (20.3, -53.0), (21.1, -47.2), (21.1, -50.2),
    (21.9, -48.0), (21.9, -51.6), (22.7, -45.6), (22.7, -50.4), (23.5, -47.9), (23.5, -51.5),
    (24.3, -46.8), (24.3, -50.3), (25.1, -43.4), (25.1, -48.2), (25.9, -43.9), (25.9, -49.7),
    (26.7, -45.5), (26.7, -46.4), (27.5, -43.6), (27.5, -47.3), (28.3, -41.6), (28.3, -47.9),
    (29.1, -43.2), (29.1, -46.0), (29.9, -40.9), (29.9, -43.9), (30.7, -41.3), (30.7, -45.7),
    (31.5, -39.0), (31.5, -43.7), (32.3, -41.7), (32.3, -45.1), (33.1, -39.3), (33.1, -42.3),
    (33.9, -40.0), (33.9, -43.6), (34.7, -37.5), (34.7, -42.3), (35.5, -40.0), (35.5, -43.6),
    (36.3, -39.2), (36.3, -42.7), (37.1, -36.0), (37.1, -40.8), (37.9, -36.7), (37.9, -42.5),
    (38.7, -38.4), (38.7, -39.3), (39.5, -36.5), (39.5, -40.2), (40.3, -34.6), (40.3, -40.9),
    (41.1, -36.2), (41.1, -39.0), (41.9, -33.9), (41.9, -36.9), (42.7, -34.4), (42.7, -38.8),
    (43.5, -32.2), (43.5, -36.9), (44.3, -35.0), (44.3, -38.4), (45.1, -32.7), (45.1, -35.7),
    (45.9, -33.6), (45.9, -37.2), (46.7, -31.2), (46.7, -36.0), (47.5, -33.9), (47.5, -37.5),
    (48.3, -33.2), (48.3, -36.7), (49.1, -30.1), (49.1, -34.9), (49.9, -30.9), (49.9, -36.7),
    (50.7, -32.6), (50.7, -33.5), (51.5, -30.8), (51.5, -34.5), (52.3, -28.9), (52.3, -35.2),
]

# curved corner of the band, listed per Z row: R^2/Rjar values
corner_band = {
    -30.5: [51.2, 53.3, 55.1, 57.0], -30.0: [52.4, 54.6, 56.3], -29.5: [52.0, 54.1, 56.0, 58.1],
    -29.0: [53.3, 55.5, 57.4], -28.5: [53.0, 55.1, 57.0, 59.2], -28.0: [54.4, 56.6, 58.5],
    -27.5: [54.2, 56.4, 58.3, 60.3], -27.0: [55.5, 57.7, 59.5], -26.5: [55.4, 57.5, 59.4, 61.3],
    -26.0: [56.6, 58.7, 60.6], -25.5: [56.5, 58.6, 60.5, 62.4], -25.0: [57.7, 59.8, 61.7],
    -24.5: [57.6, 59.7, 61.6, 63.5], -24.0: [58.8, 60.9, 62.7], -23.5: [58.7, 60.7, 62.6, 64.5],
    -23.0: [59.8, 61.8, 63.7], -22.5: [59.7, 61.7, 63.6, 65.4], -22.0: [60.8, 62.8, 64.6],
    -21.5: [60.8, 62.8, 64.6, 66.4], -21.0: [61.8, 63.7, 65.5], -20.5: [61.7, 63.7, 65.5, 67.2],
    -20.0: [62.7, 64.5, 66.3], -19.5: [62.6, 64.6, 66.3, 68.0], -19.0: [63.5, 65.4, 67.1],
    -18.5: [63.4, 65.4, 67.1, 68.8], -18.0: [64.3, 66.2, 67.9], -17.5: [64.2, 66.1, 67.8, 69.6],
    -17.0: [65.0, 66.9, 68.6], -16.5: [65.0, 66.9, 68.6, 70.3], -16.0: [65.8, 67.6, 69.3],
    -15.5: [65.8, 67.6, 69.3, 71.0], -15.0: [66.5, 68.3, 69.9], -14.5: [66.4, 68.2, 69.9, 71.6],
    -14.0: [67.1, 68.9, 70.5], -13.5: [67.1, 68.9, 70.6, 72.2], -13.0: [67.8, 69.6, 71.2],
    -12.5: [67.7, 69.5, 71.2, 72.8], -12.0: [68.5, 70.2, 71.8], -11.5: [68.4, 70.1, 71.8, 73.4],
    -11.0: [69.1, 70.8, 72.4], -10.5: [69.0, 70.7, 72.4, 74.0], -10.0: [69.8, 71.5, 73.0],
    -9.5: [69.7, 71.4, 73.0, 74.6], -9.0: [70.3, 72.0, 73.6], -8.5: [70.3, 72.0, 73.6, 75.1],
    -8.0: [70.9, 72.5, 74.1], -7.5: [70.8, 72.4, 74.0, 75.5], -7.0: [71.2, 72.8, 74.4],
    -6.5: [71.1, 72.7, 74.3, 75.8], -6.0: [71.5, 73.1, 74.7], -5.5: [71.4, 73.0, 74.6, 76.1],
    -5.0: [71.8, 73.4, 74.9], -4.5: [71.7, 73.3, 74.8, 76.3], -4.0: [72.0, 73.6, 75.1],
    -3.5: [71.9, 73.5, 75.0, 76.5], -3.0: [72.2, 73.8, 75.3], -2.5: [72.1, 73.7, 75.2, 76.6],
    -2.0: [72.4, 74.0, 75.5], -1.5: [72.3, 73.9, 75.4], -1.0: [72.6, 74.1, 75.6],
    -0.5: [72.5, 74.0, 70.8],
    -30.25: [52.0, 54.9, 57.6], -29.75: [51.3, 53.7, 56.4], -29.25: [53.0, 55.8, 58.6],
    -28.75: [52.3, 54.5, 57.3], -28.25: [53.9, 56.8, 59.6], -27.75: [53.4, 55.6, 58.4],
    -27.25: [55.0, 57.8, 60.6], -26.75: [54.6, 56.8, 59.7], -26.25: [56.0, 58.2, 61.4],
    -25.75: [55.8, 58.0, 60.9], -25.25: [57.1, 59.3, 62.2], -24.75: [56.9, 59.0, 61.9],
    -24.25: [58.2, 60.3, 63.0], -23.75: [58.0, 60.0, 62.9], -23.25: [59.2, 61.3, 63.9],
    -22.75: [59.0, 61.2, 64.2], -22.25: [60.3, 62.3, 65.0], -21.75: [60.0, 62.2, 64.9],
    -21.25: [61.2, 63.3, 65.9], -20.75: [61.0, 63.0, 65.8], -20.25: [62.2, 64.0, 66.7],
    -19.75: [61.9, 63.9, 66.8], -19.25: [63.0, 64.9, 67.5], -18.75: [62.7, 64.8, 67.6],
    -18.25: [63.8, 65.8, 68.2], -17.75: [63.6, 65.5, 68.4], -17.25: [64.6, 66.5, 69.0],
    -16.75: [64.4, 66.3, 69.2], -16.25: [65.3, 67.2, 69.7], -15.75: [65.1, 67.0, 70.0],
    -15.25: [66.0, 67.9, 70.4], -14.75: [65.8, 67.7, 70.7], -14.25: [66.6, 68.5, 71.1],
    -13.75: [66.5, 68.3, 71.4], -13.25: [67.3, 69.1, 71.8], -12.75: [67.2, 69.0, 72.0],
    -12.25: [68.0, 69.8, 72.4], -11.75: [67.9, 69.6, 72.6], -11.25: [68.7, 70.4, 73.0],
    -10.75: [68.6, 70.3, 73.2], -10.25: [69.3, 71.0, 73.6], -9.75: [69.2, 70.9, 73.8],
    -9.25: [69.9, 71.6, 74.2], -8.75: [69.8, 71.5, 74.4], -8.25: [70.4, 72.1, 74.7],
    -7.75: [70.3, 72.0, 74.9], -7.25: [70.8, 72.5, 75.1], -6.75: [70.7, 72.3, 75.3],
    -6.25: [71.1, 72.8, 75.4], -5.75: [71.0, 72.6, 75.5], -5.25: [71.4, 73.1, 75.7],
    -4.75: [71.3, 72.9, 75.9], -4.25: [71.6, 73.3, 76.0], -3.75: [71.5, 73.2, 76.2],
    -3.25: [71.8, 73.5, 76.3], -2.75: [71.7, 73.4, 76.1], -2.25: [72.0, 73.6, 75.9],
    -1.75: [71.9, 73.5, 75.8], -1.25: [72.2, 73.8, 75.9], -0.75: [72.1, 73.6, 75.0],
    -0.25: [72.9, 73.9, 75.5],
}

corner_extra = [
    (56.2, -30.2), (51.6, -30.2), (55.6, -29.4), (54.0, -29.4), (59.3, -28.6), (52.9, -28.6),
    (58.0, -27.8), (56.6, -27.8), (60.5, -27.0), (56.0, -27.0), (60.2, -26.2), (55.8, -26.2),
    (62.6, -25.4), (58.1, -25.4), (60.7, -24.6), (58.3, -24.6), (64.9, -23.8), (60.6, -23.8),
    (63.4, -23.0), (58.8, -23.0), (65.0, -22.2), (60.4, -22.2), (64.3, -21.4), (62.7, -21.4),
    (67.7, -20.6), (61.3, -20.6), (66.0, -19.8), (64.6, -19.8), (68.2, -19.0), (63.7, -19.0),
    (67.6, -18.2), (63.2, -18.2), (69.6, -17.4), (65.1, -17.4), (67.2, -16.6), (64.8, -16.6),
    (71.1, -15.8), (66.8, -15.8), (69.2, -15.0), (64.6, -15.0), (70.4, -14.2), (65.8, -14.2),
    (69.4, -13.4), (67.8, -13.4), (72.5, -12.6), (66.1, -12.6), (70.8, -11.8), (69.4, -11.8),
    (72.8, -11.0), (68.3, -11.0), (72.1, -10.2), (67.7, -10.2), (74.0, -9.4), (69.5, -9.4),
    (71.5, -8.6), (69.1, -8.6), (75.2, -7.8), (70.9, -7.8), (73.1, -7.0), (68.5, -7.0),
    (74.2, -6.2), (69.6, -6.2), (72.9, -5.4), (71.3, -5.4), (75.8, -4.6), (69.4, -4.6),
    (73.7, -3.8), (72.3, -3.8), (75.5, -3.0), (71.0, -3.0), (74.6, -2.2), (70.2, -2.2),
    (76.2, -1.4), (71.7, -1.4), (73.4, -0.6), (71.0, -0.6),
    (53.4, -29.9), (57.0, -29.9), (55.9, -29.3), (51.9, -29.3), (54.7, -28.7), (59.8, -28.7),
    (55.2, -28.1), (58.8, -28.1), (57.7, -27.5), (53.7, -27.5), (56.5, -26.9), (61.6, -26.9),
    (57.1, -26.3), (60.7, -26.3), (59.6, -25.7), (55.6, -25.7), (58.4, -25.1), (63.5, -25.1),
    (59.1, -24.5), (62.7, -24.5), (61.6, -23.9), (57.6, -23.9), (60.4, -23.3), (65.5, -23.3),
    (60.8, -22.7), (64.4, -22.7), (63.3, -22.1), (59.3, -22.1), (62.1, -21.5), (67.2, -21.5),
    (62.4, -20.9), (66.0, -20.9), (64.8, -20.3), (60.8, -20.3), (63.6, -19.7), (68.7, -19.7),
    (64.0, -19.1), (67.6, -19.1), (66.4, -18.5), (62.4, -18.5), (65.1, -17.9), (70.2, -17.9),
    (65.4, -17.3), (69.0, -17.3), (67.7, -16.7), (63.7, -16.7), (66.3, -16.1), (71.4, -16.1),
    (66.7, -15.5), (70.3, -15.5), (68.9, -14.9), (64.9, -14.9), (67.5, -14.3), (72.6, -14.3),
    (67.8, -13.7), (71.4, -13.7), (70.1, -13.1), (66.1, -13.1), (68.7, -12.5), (73.8, -12.5),
    (69.0, -11.9), (72.6, -11.9), (71.3, -11.3), (67.3, -11.3), (69.8, -10.7), (74.9, -10.7),
    (70.1, -10.1), (73.7, -10.1), (72.4, -9.5), (68.4, -9.5), (70.8, -8.9), (75.9, -8.9),
    (71.0, -8.3), (74.6, -8.3), (73.2, -7.7), (69.2, -7.7), (71.6, -7.1), (76.7, -7.1),
    (71.6, -6.5), (75.2, -6.5), (73.7, -5.9), (69.7, -5.9), (72.1, -5.3), (77.2, -5.3),
    (72.1, -4.7), (75.7, -4.7), (74.2, -4.1), (70.2, -4.1), (72.5, -3.5), (77.6, -3.5),
    (72.5, -2.9), (76.1, -2.9), (74.5, -2.3), (70.5, -2.3), (72.8, -1.7), (77.9, -1.7),
    (72.7, -1.1), (76.3, -1.1), (74.7, -0.5), (70.7, -0.5),
]

lower_scatter = [
    (70.0, -4.2), (69.4, -6.8), (68.7, -9.1), (67.9, -11.3), (66.5, -13.6), (64.8, -16.2),
    (63.0, -18.7), (61.2, -21.0), (59.5, -23.2), (57.3, -25.8), (55.2, -28.3), (70.4, -2.6),
    (69.8, -1.2), (71.3, 0.3), (51.6, -15.7), (53.1, -15.9), (48.0, -21.8), (51.7, -22.8),
    (45.0, -24.8), (61.7, -1.3), (64.6, -3.3), (65.2, -3.0), (58.8, -3.9), (59.0, -5.1),
    (60.6, -5.1), (61.0, -5.8), (57.6, -7.3), (56.9, -8.4), (58.2, -10.6), (60.7, -9.6),
    (59.6, -9.9), (64.3, -8.8), (65.1, -9.2), (63.6, -10.9), (64.3, -12.2), (62.3, -12.8),
    (63.1, -14.0), (56.9, -14.7), (53.3, -15.9), (55.1, -16.9), (55.7, -15.9), (56.7, -17.0),
    (58.4, -18.6), (59.6, -18.1), (57.2, -20.2), (53.5, -21.4), (54.4, -23.2), (55.8, -23.4),
    (79.0, -1.3), (79.3, -2.0), (77.5, -3.5), (77.9, -5.3), (78.4, -5.7), (75.9, -9.0),
    (74.8, -12.5), (76.3, -14.1), (73.2, -15.2), (73.4, -19.3), (70.5, -20.7), (68.2, -22.5),
    (3.7, -64.0), (0.2, -63.9), (22.8, -41.8), (24.5, -41.3), (19.8, -43.5), (22.1, -43.8),
    (16.0, -45.1), (14.7, -46.7), (20.5, -45.1), (24.0, -45.4), (25.7, -43.4), (10.9, -59.1),
    (9.7, -58.6), (8.0, -59.7), (7.3, -61.2), (5.6, -60.3), (18.5, -55.3), (14.7, -55.8),
    (4.6, -51.0), (2.4, -52.2), (3.5, -52.9), (5.5, -51.6), (7.2, -50.9), (39.2, -27.5),
    (35.3, -32.6), (31.0, -34.9), (34.1, -34.9), (48.6, -26.2), (45.6, -27.7), (44.7, -29.5),
    (43.3, -26.2), (44.1, -25.6), (44.9, -24.9), (27.1, -50.8), (28.6, -52.7), (42.2, -31.6),
    (51.3, -27.0), (66.0, -24.9), (64.3, -28.0), (62.8, -28.4), (59.7, -29.2), (57.3, -30.3),
    (56.2, -33.3), (55.2, -34.5), (53.1, -35.2),
]

exposure_label = "66.3 live\u2013days"

# ---- collect black dots
wall = top_dots + top_cluster + side_column + side_scatter + lower_scatter + floor_extra + corner_extra
wall += [(x, z) for x, zs in floor_band.items() for z in zs]
wall += [(x, z) for z, xs in corner_band.items() for x in xs]
wall = np.array(wall)
ev = np.array(events)

fig = plt.figure(figsize=(9.37, 12.09), dpi=100)
ax = fig.add_axes([192 / 937, 1 - 1033 / 1209, 688 / 937, 1006 / 1209])

ax.plot(wall[:, 0], wall[:, 1], 'o', color='black', ms=4.8, mew=0, ls='none')
ax.plot(ev[:, 0], ev[:, 1], 'o', mfc='none', mec='#0000ff', ms=13.5, mew=1.2, ls='none')
ax.plot([highlight[0]], [highlight[1]], 'o', color='#e8372c', ms=14, mew=0)

ax.set_xlim(0, 80)
ax.set_ylim(-65, 100)
ax.set_xticks([0, 20, 40, 60, 80])
ax.set_yticks([-60, -40, -20, 0, 20, 40, 60, 80, 100])
ax.yaxis.set_major_formatter(FuncFormatter(
    lambda v, p: ('\u2013    %d' % abs(v)) if v < 0 else '%d' % v))
ax.tick_params(direction='in', length=7, width=1.8, top=True, right=True, labelsize=41)
ax.tick_params(axis='x', pad=14)
ax.tick_params(axis='y', pad=9)
for s in ax.spines.values():
    s.set_linewidth(2.0)

# live-days box
ax.add_patch(Rectangle((32.6, -63.7), 47.1, 14.0, fill=False, lw=1.6, ec='black', zorder=5))
ax.text(54.9, -56.7, exposure_label, fontsize=40, ha='center', va='center', zorder=6)

fig.text(45 / 937, 1 - 540 / 1209, 'Z (mm)', rotation=90, fontsize=43, ha='center', va='center')
fig.text(537 / 937, 1 - 1145 / 1209, r'R$^2$/R$_{jar}$ (mm)', fontsize=40, ha='center', va='center')

fig.savefig('out.png', dpi=100)
